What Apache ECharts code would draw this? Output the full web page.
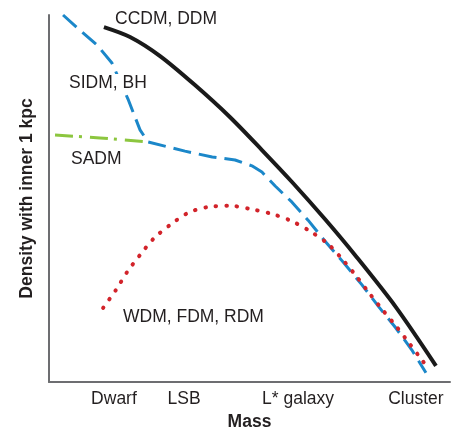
<!DOCTYPE html>
<html>
<head>
<meta charset="utf-8">
<script src="https://cdn.jsdelivr.net/npm/echarts@6/dist/echarts.min.js"></script>
<style>html,body{margin:0;padding:0;background:#fff}#c{width:458px;height:430px}</style>
</head>
<body>
<div id="c"></div>
<script>
// Tick labels on the mass axis and their positions (axis units 0-100)
var tickLabels = ['Dwarf', 'LSB', 'L* galaxy', 'Cluster'];
var tickValues = [16.2, 33.7, 62.1, 91.5];

// CCDM, DDM (solid black)
var ccdmX = [13.7, 20.2, 27.7, 36.4, 45.1, 53.1, 60.6, 68.8, 76.3, 86.5, 96.5];
var ccdmY = [96.7, 94.0, 88.8, 80.9, 72.2, 63.2, 54.5, 44.4, 34.6, 20.4, 4.4];

// SIDM, BH (dashed blue)
var sidmX = [3.5, 8.2, 12.0, 15.7, 19.7, 22.7, 24.7, 33.9, 40.7, 46.4, 50.6, 53.1, 56.4, 60.6, 64.6, 68.8, 73.1, 78.1, 82.3, 86.5, 90.5, 94.0];
var sidmY = [100.0, 95.4, 91.8, 86.9, 77.1, 68.7, 65.4, 62.9, 61.3, 60.5, 58.9, 57.2, 53.4, 49.0, 44.1, 38.4, 33.0, 26.4, 20.4, 14.7, 8.7, 2.5];

// SADM (dash-dot green)
var sadmX = [1.5, 12.7, 24.7];
var sadmY = [67.3, 66.5, 65.4];

// WDM, FDM, RDM (dotted red)
var wdmX = [13.5, 16.7, 19.5, 22.7, 26.2, 30.2, 34.7, 39.7, 45.1, 50.4, 55.6, 60.4, 65.1, 69.6, 73.1, 76.6, 79.8, 83.0, 86.5, 89.8, 93.0, 94.5];
var wdmY = [20.2, 25.1, 30.0, 34.6, 39.2, 42.8, 46.1, 47.7, 48.0, 47.1, 45.8, 43.9, 41.1, 37.6, 33.5, 28.9, 24.3, 19.9, 15.3, 10.6, 6.0, 3.8];

function pairs(xs, ys) { return xs.map(function (x, i) { return [x, ys[i]]; }); }

var font = 'Liberation Sans, Arial, Helvetica, sans-serif';
var txt = '#231f20';
var chart = echarts.init(document.getElementById('c'), null, {renderer: 'canvas'});
chart.setOption({
  animation: false,
  backgroundColor: '#fff',
  grid: {left: 49, right: 8, top: 15, bottom: 48, containLabel: false, outerBoundsMode: 'none'},
  xAxis: {
    type: 'value', min: 0, max: 100,
    name: 'Mass', nameLocation: 'middle', nameGap: 31,
    nameTextStyle: {fontFamily: font, fontSize: 17.5, fontWeight: 'bold', color: txt},
    axisLine: {show: true, onZero: false, lineStyle: {color: '#6d6e71', width: 2}},
    axisTick: {show: false},
    splitLine: {show: false},
    axisLabel: {
      show: true, customValues: tickValues, margin: 8,
      fontFamily: font, fontSize: 17.5, color: txt,
      formatter: function (v) {
        for (var i = 0; i < tickValues.length; i++) if (Math.abs(v - tickValues[i]) < 1e-6) return tickLabels[i];
        return '';
      }
    }
  },
  yAxis: {
    type: 'value', min: 0, max: 100,
    name: 'Density with inner 1 kpc', nameLocation: 'middle', nameGap: 13,
    nameTextStyle: {fontFamily: font, fontSize: 17.5, fontWeight: 'bold', color: txt},
    axisLine: {show: true, onZero: false, lineStyle: {color: '#6d6e71', width: 2}},
    axisTick: {show: false},
    splitLine: {show: false},
    axisLabel: {show: false}
  },
  series: [
    {type: 'line', data: pairs(ccdmX, ccdmY), smooth: 0.3, symbol: 'none', clip: false,
     lineStyle: {color: '#1a1a1a', width: 4}},
    {type: 'line', data: pairs(sidmX, sidmY), smooth: false, symbol: 'none', clip: false,
     lineStyle: {color: '#1b87c9', width: 3, type: [18, 8]}},
    {type: 'line', data: pairs(sadmX, sadmY), smooth: false, symbol: 'none', clip: false,
     lineStyle: {color: '#8cc63f', width: 3, type: [18, 6, 3, 8]}},
    {type: 'line', data: pairs(wdmX, wdmY), smooth: 0.3, symbol: 'none', clip: false,
     lineStyle: {color: '#d2232a', width: 4, type: [0.5, 10], cap: 'round'}}
  ],
  graphic: [
    {type: 'text', z: 100, left: 115, top: 10, style: {text: 'CCDM, DDM', font: '17.5px ' + font, fill: txt}},
    {type: 'text', z: 100, left: 67, top: 74, style: {text: 'SIDM, BH', font: '17.5px ' + font, fill: txt, backgroundColor: '#fff', padding: [0, 2, 0, 2]}},
    {type: 'text', z: 100, left: 71, top: 150, style: {text: 'SADM', font: '17.5px ' + font, fill: txt}},
    {type: 'text', z: 100, left: 123, top: 308, style: {text: 'WDM, FDM, RDM', font: '17.5px ' + font, fill: txt}}
  ]
});
</script>
</body>
</html>
